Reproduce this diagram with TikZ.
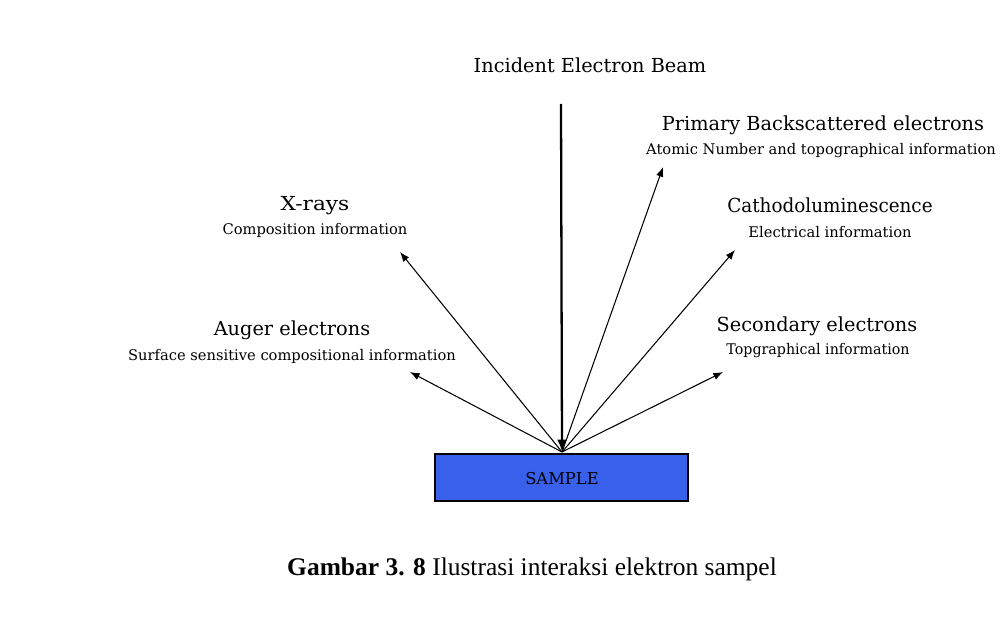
\documentclass[tikz,border=0pt]{standalone}
\usepackage{fontspec}
\setmainfont{Liberation Serif}
\newfontfamily\lblfont{DejaVu Serif}
\usetikzlibrary{arrows.meta}
\definecolor{sampleblue}{RGB}{56,96,234}
\tikzset{
  mainlbl/.style={inner sep=0pt, anchor=base, font=\lblfont\fontsize{11}{12}\selectfont},
  sublbl/.style={inner sep=0pt, anchor=base, font=\lblfont\fontsize{8.35}{9}\selectfont},
  ray/.style={draw=black, line width=0.6pt, -{Latex[length=5.5pt,width=4.2pt]}},
  beam/.style={draw=black, line width=1.3pt, -{Latex[length=7pt,width=5.5pt]}},
}
\begin{document}
\begin{tikzpicture}[x=0.02cm,y=-0.02cm]
\useasboundingbox (0,0) rectangle (1003,628);
% sample
\node[draw=black, line width=0.6pt, fill=sampleblue, minimum width=253*0.02cm, minimum height=47*0.02cm, inner sep=0pt] (sample) at (561.5,477.5) {};
\node[inner sep=0pt, anchor=base, font=\lblfont\fontsize{9.3}{10}\selectfont] (samplelbl) at (562,484) {SAMPLE};
\coordinate (hub) at (562,452);
% labels
\node[mainlbl] (beamlbl) at (590,73) {Incident Electron Beam};
\coordinate (beamtop) at (561,104);
\node[mainlbl] (pbs) at (823,131) {Primary Backscattered electrons};
\node[sublbl] (pbsi) at (821,154) {Atomic Number and topographical information};
\node[mainlbl] (cl) at (830,213) {\scalebox{0.95}[1]{Cathodoluminescence}};
\node[sublbl] (cli) at (830,237) {Electrical information};
\node[mainlbl] (se) at (817,331) {Secondary electrons};
\node[sublbl] (sei) at (818,354) {\scalebox{0.97}[1]{Topgraphical information}};
\node[mainlbl] (xr) at (315,211) {\scalebox{1.12}[1]{X-rays}};
\node[sublbl] (xri) at (315,235) {Composition information};
\node[mainlbl] (au) at (292,335) {Auger electrons};
\node[sublbl] (aui) at (292,360) {Surface sensitive compositional information};
% arrow tips
\coordinate (tpbs) at (663,167);
\coordinate (tcl) at (735,250);
\coordinate (tse) at (723,372);
\coordinate (txr) at (400,252);
\coordinate (tau) at (410,372);
% connectors
\draw[ray] (hub) -- (tpbs);
\draw[ray] (hub) -- (tcl);
\draw[ray] (hub) -- (tse);
\draw[ray] (hub) -- (txr);
\draw[ray] (hub) -- (tau);
\draw[beam] (beamtop) -- (hub);
% caption
\node[inner sep=0pt, anchor=base, font=\fontsize{14.5}{16}\selectfont] (cap) at (532,575) {\textbf{Gambar 3. 8} Ilustrasi interaksi elektron sampel};
\end{tikzpicture}
\end{document}
